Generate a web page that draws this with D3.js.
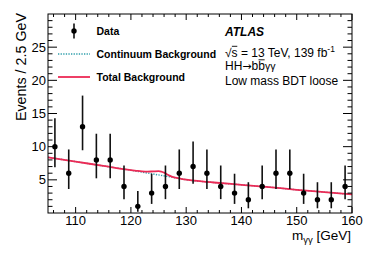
<!DOCTYPE html>
<html><head><meta charset="utf-8">
<script src="https://cdn.jsdelivr.net/npm/d3@7"></script>
<style>body{margin:0;background:#fff}svg{display:block;font-family:"Liberation Sans",Arial,sans-serif}</style>
</head><body><svg id="c" width="374" height="253"></svg>
<script>
// Data: bin centres (GeV), event counts, Poisson error bars
const binCenters = [106.25,108.75,111.25,113.75,116.25,118.75,121.25,123.75,126.25,128.75,131.25,133.75,136.25,138.75,141.25,143.75,146.25,148.75,151.25,153.75,156.25,158.75];
const counts     = [10,6,13,8,8,4,1,3,4,6,7,6,4,3,2,4,6,6,3,2,2,4];
const errLow     = [3.11,2.38,3.54,2.77,2.77,1.91,0.83,1.63,1.91,2.38,2.58,2.38,1.91,1.63,1.29,1.91,2.38,2.38,1.63,1.29,1.29,1.91];
const errHigh    = [4.27,3.58,4.70,3.95,3.95,3.16,2.30,2.92,3.16,3.58,3.77,3.58,3.16,2.92,2.64,3.16,3.58,3.58,2.92,2.64,2.64,3.16];
// Background curves
const contMass  = [105,110,115,120,121,122,123,124,125,126,127,128,129,130,135,140,145,150,155,160];
const contVals  = [8.4,7.75,7.1,6.45,6.3,6.16,6.02,5.88,5.74,5.6,5.46,5.32,5.17,5.02,4.6,4.25,3.9,3.5,3.15,2.8];
const totMass   = [105,110,115,120,121,122,123,124,125,125.5,126,126.5,127,127.5,128,129,130,135,140,145,150,155,160];
const totVals   = [8.4,7.75,7.1,6.45,6.36,6.28,6.24,6.27,6.3,6.25,6.08,5.85,5.63,5.45,5.33,5.17,5.02,4.6,4.25,3.9,3.5,3.15,2.8];
const xTicks = [110,120,130,140,150,160];
const yTicks = [5,10,15,20,25];

const svg = d3.select("#c");
const L=48,R=352,T=14,B=213;
const x = d3.scaleLinear().domain([105,160]).range([L,R]);
const y = d3.scaleLinear().domain([0,30]).range([B,T]);

// curves
const line = d3.line().curve(d3.curveMonotoneX);
svg.append("path").attr("d", line(contMass.map((m,i)=>[x(m),y(contVals[i])])))
  .attr("fill","none").attr("stroke","#2e9eab").attr("stroke-width",1.4).attr("stroke-dasharray","1.3,1.3");
svg.append("path").attr("d", line(totMass.map((m,i)=>[x(m),y(totVals[i])])))
  .attr("fill","none").attr("stroke","#ec2a55").attr("stroke-width",1.8);

// data
const g = svg.append("g");
binCenters.forEach((c,i)=>{
  g.append("line").attr("x1",x(c)).attr("x2",x(c))
    .attr("y1",y(Math.max(0,counts[i]-errLow[i]))).attr("y2",y(counts[i]+errHigh[i]))
    .attr("stroke","#111").attr("stroke-width",1.6);
  g.append("circle").attr("cx",x(c)).attr("cy",y(counts[i])).attr("r",2.7).attr("fill","#000");
});

// axes (ticks inside, all four sides)
const ax = svg.append("g").attr("stroke","#000").attr("stroke-width",1);
const xMinor = d3.range(106,160.1,2);
xMinor.forEach(v=>{
  const len = xTicks.includes(v)?6:3;
  ax.append("line").attr("x1",x(v)).attr("x2",x(v)).attr("y1",B).attr("y2",B-len);
  ax.append("line").attr("x1",x(v)).attr("x2",x(v)).attr("y1",T).attr("y2",T+len);
});
d3.range(1,30,1).forEach(v=>{
  const len = yTicks.includes(v)?9:4.5;
  ax.append("line").attr("x1",L).attr("x2",L+len).attr("y1",y(v)).attr("y2",y(v));
  ax.append("line").attr("x1",R).attr("x2",R-len).attr("y1",y(v)).attr("y2",y(v));
});
svg.append("rect").attr("x",L).attr("y",T).attr("width",R-L).attr("height",B-T)
  .attr("fill","none").attr("stroke","#000").attr("stroke-width",1);

const tl = svg.append("g").attr("font-size",13).attr("fill","#000");
xTicks.forEach(v=>tl.append("text").attr("x",x(v)).attr("y",225).attr("text-anchor","middle").text(v));
yTicks.forEach(v=>tl.append("text").attr("x",46).attr("y",y(v)+4.6).attr("text-anchor","end").text(v));

// axis titles
const xt = svg.append("text").attr("x",351).attr("y",240).attr("text-anchor","end").attr("font-size",13.5);
xt.append("tspan").text("m");
xt.append("tspan").attr("dy",3).attr("font-size",9.5).text("γγ");
xt.append("tspan").attr("dy",-3).text(" [GeV]");
svg.append("text").attr("transform","translate(26,13) rotate(-90)").attr("text-anchor","end")
  .attr("font-size",14.3).text("Events /  2.5 GeV");

// legend
const lg = svg.append("g").attr("font-size",10.5).attr("font-weight","bold");
lg.append("line").attr("x1",74).attr("x2",74).attr("y1",23.5).attr("y2",38.5).attr("stroke","#111").attr("stroke-width",1.6);
lg.append("circle").attr("cx",74).attr("cy",31).attr("r",2.7);
lg.append("text").attr("x",96.5).attr("y",35).text("Data");
lg.append("line").attr("x1",58).attr("x2",90).attr("y1",54).attr("y2",54).attr("stroke","#2e9eab").attr("stroke-width",1.4).attr("stroke-dasharray","1.3,1.3");
lg.append("text").attr("x",96.5).attr("y",58).text("Continuum Background");
lg.append("line").attr("x1",58).attr("x2",90).attr("y1",77).attr("y2",77).attr("stroke","#ec2a55").attr("stroke-width",1.8);
lg.append("text").attr("x",96.5).attr("y",81).text("Total Background");

// labels
const lb = svg.append("g").attr("font-size",12);
lb.append("text").attr("x",225).attr("y",36).attr("font-weight","bold").attr("font-style","italic").text("ATLAS");
const l2 = lb.append("text").attr("x",225).attr("y",56.5);
l2.append("tspan").text("√s = 13 TeV, 139 fb");
l2.append("tspan").attr("dy",-5).attr("font-size",8.5).text("-1");
const l3 = lb.append("text").attr("x",225).attr("y",69.5);
l3.append("tspan").text("HH");
l3.append("tspan").attr("font-family","DejaVu Sans").attr("font-size",11).text("→");
l3.append("tspan").text("bb");
l3.append("tspan").attr("font-size",10.5).text("γγ");
lb.append("text").attr("x",225).attr("y",84.5).text("Low mass BDT loose");

// overlines (sqrt bar over s, anti-b bar)
function overline(textNode, idx, yy){
  const s = textNode.getStartPositionOfChar(idx).x, e = textNode.getEndPositionOfChar(idx).x;
  lb.append("line").attr("x1",s+0.3).attr("x2",e-0.3).attr("y1",yy).attr("y2",yy).attr("stroke","#000").attr("stroke-width",0.9);
}
overline(l2.node(), 1, 46.3);
overline(l3.node(), 4, 59.8);
</script></body></html>
